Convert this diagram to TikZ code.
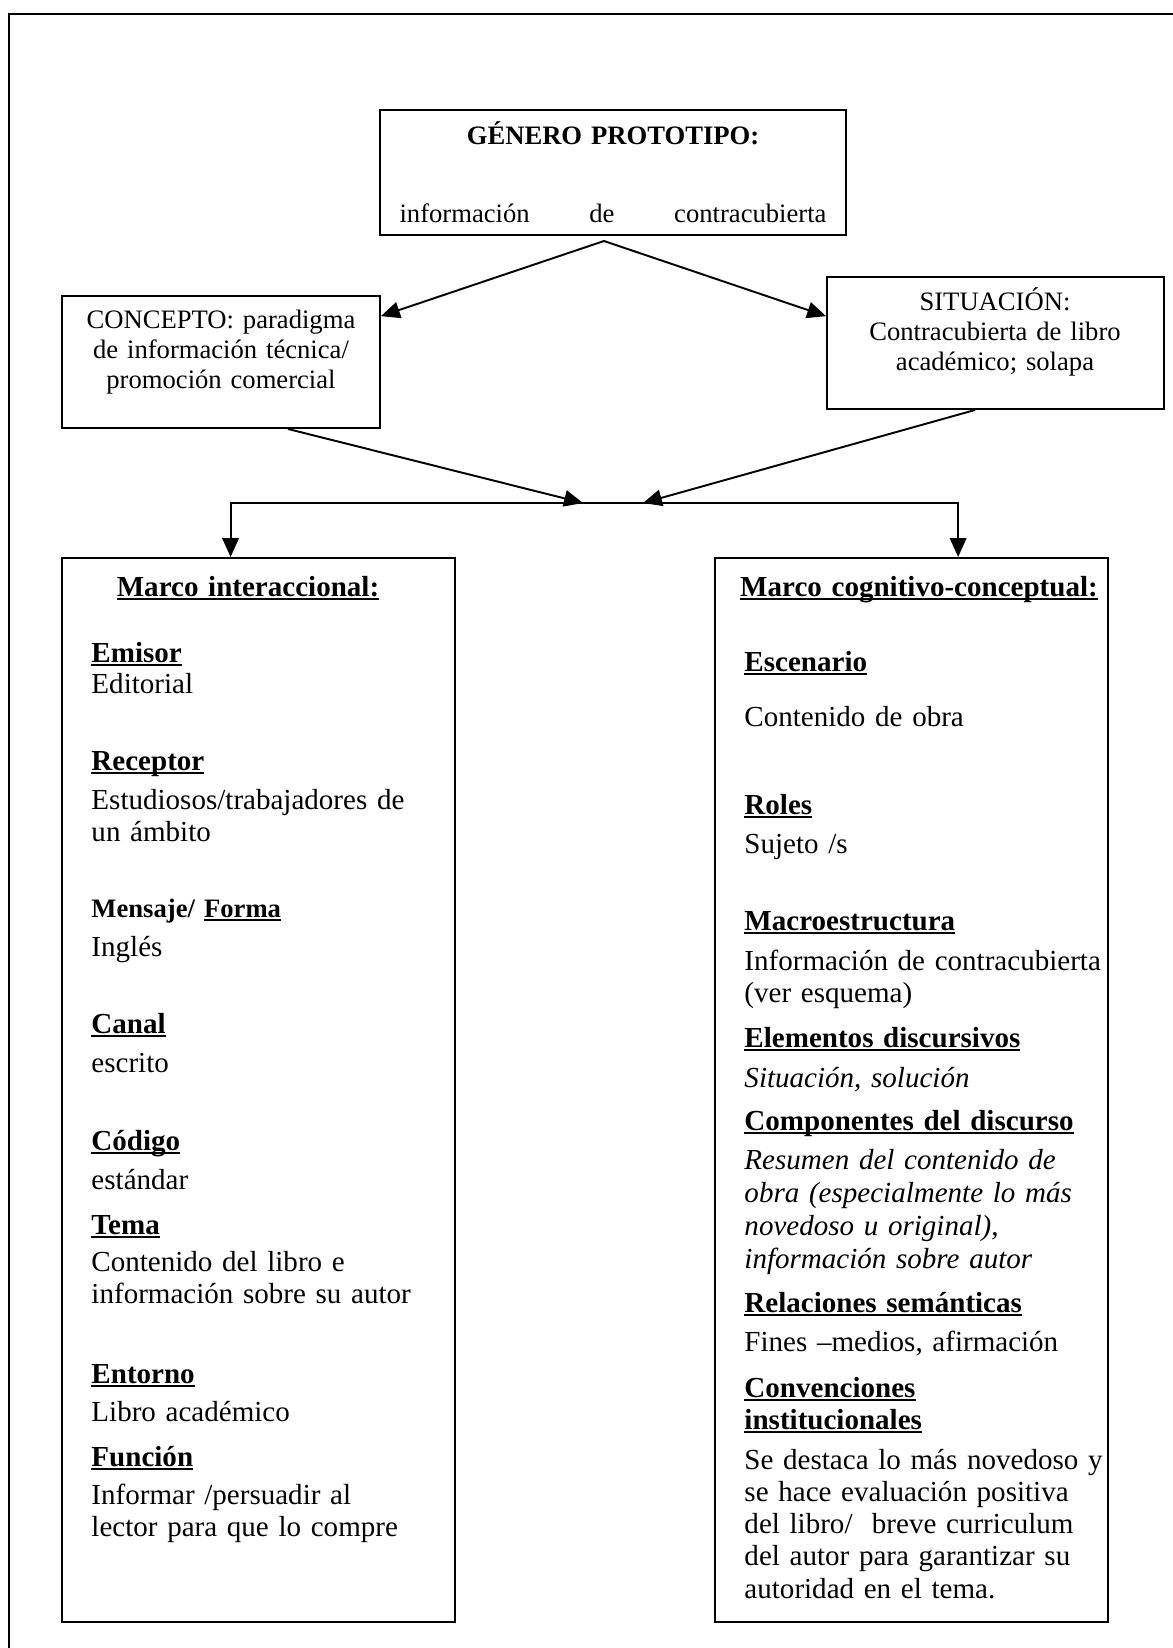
\documentclass[tikz,border=0pt]{standalone}
\usepackage{fontspec}
\setmainfont{Liberation Serif}
\usetikzlibrary{arrows.meta,fit}
\newcommand\ulbf[1]{\setbox0\hbox{\textbf{#1}}\rlap{\rule[-1.6pt]{\wd0}{0.8pt}}\box0}
\tikzset{
  frame/.style={draw,line width=0.8pt,inner sep=0pt},
  arr/.style={-{Triangle[length=7.8pt,width=6.8pt]},line width=0.8pt},
  lbl/.style={inner sep=0pt,text width=140pt,align=center,anchor=base,font=\fontsize{11}{12.6}\selectfont},
  txt/.style={inner sep=0pt,text width=165pt,align=left,anchor=base west,font=\fontsize{12}{13.5}\selectfont},
}
\begin{document}
\begin{tikzpicture}[x=0.4132pt,y=-0.4132pt]
\useasboundingbox (0,0) rectangle (1173,1648);
\draw[line width=0.9pt] (9,1660) -- (9,14) -- (1185,14);

\node (genero) [frame,fit={(380,110) (846,235)}] {};
\node (concepto) [frame,fit={(62,296) (380,428)}] {};
\node (situacion) [frame,fit={(827,277) (1164,409)}] {};
\node (interac) [frame,fit={(62,558) (455,1622)}] {};
\node (cognit) [frame,fit={(715,558) (1108,1622)}] {};

\node (generot) [lbl,text width=190pt] at (613,144) {\textbf{GÉNERO PROTOTIPO:}};
\node (generos) [lbl,text width=190pt] at (613,222) {\hbox to 176.4pt{información\hfill de\hfill contracubierta}};
\node (conceptot) [lbl] at (221,328) {CONCEPTO: paradigma\\de información técnica/\\promoción comercial};
\node (situaciont) [lbl] at (995,310) {SITUACIÓN:\\Contracubierta de libro\\académico; solapa};

\coordinate (split) at (604,241);
\coordinate (hubL) at (583,503);
\coordinate (hubR) at (643,503);
\draw[arr] (split) -- (concepto.16);
\draw[arr] (split) -- (situacion.171);
\draw[arr] (concepto.-45) -- (hubL);
\draw[arr] (situacion.-107) -- (hubR);
\draw[arr] (hubL) -| (interac.93);
\draw[arr] (hubL) -| (cognit.85);

\node (interact) [txt,anchor=base,align=center] at (248,596) {\ulbf{Marco interaccional:}};
\node (emisor) [txt] at (91,662) {\ulbf{Emisor}};
\node (emisorv) [txt] at (91,693) {Editorial};
\node (receptor) [txt] at (91,770) {\ulbf{Receptor}};
\node (receptorv) [txt] at (91,809) {Estudiosos/trabajadores de\\un ámbito};
\node (mensaje) [txt,font=\fontsize{11}{12.6}\selectfont] at (91,917) {\textbf{Mensaje/} \ulbf{Forma}};
\node (mensajev) [txt] at (91,956) {Inglés};
\node (canal) [txt] at (91,1033) {\ulbf{Canal}};
\node (canalv) [txt] at (91,1072) {escrito};
\node (codigo) [txt] at (91,1150) {\ulbf{Código}};
\node (codigov) [txt] at (91,1189) {estándar};
\node (tema) [txt] at (91,1234) {\ulbf{Tema}};
\node (temav) [txt] at (91,1271) {Contenido del libro e\\información sobre su autor};
\node (entorno) [txt] at (91,1383) {\ulbf{Entorno}};
\node (entornov) [txt] at (91,1421) {Libro académico};
\node (funcion) [txt] at (91,1466) {\ulbf{Función}};
\node (funcionv) [txt] at (91,1504) {Informar /persuadir al\\lector para que lo compre};

\node (cognitt) [txt,anchor=base,align=center] at (919,596) {\ulbf{Marco cognitivo-conceptual:}};
\node (escenario) [txt] at (744,671) {\ulbf{Escenario}};
\node (escenariov) [txt] at (744,726) {Contenido de obra};
\node (roles) [txt] at (744,814) {\ulbf{Roles}};
\node (rolesv) [txt] at (744,853) {Sujeto /s};
\node (macro) [txt] at (744,930) {\ulbf{Macroestructura}};
\node (macrov) [txt] at (744,970) {Información de contracubierta\\(ver esquema)};
\node (elementos) [txt] at (744,1047) {\ulbf{Elementos discursivos}};
\node (elementosv) [txt] at (744,1087) {\textit{Situación, solución}};
\node (componentes) [txt] at (744,1130) {\ulbf{Componentes del discurso}};
\node (componentesv) [txt,font=\fontsize{12}{13.7}\selectfont\itshape] at (744,1169) {Resumen del contenido de\\obra (especialmente lo más\\novedoso u original),\\información sobre autor};
\node (relaciones) [txt] at (744,1312) {\ulbf{Relaciones semánticas}};
\node (relacionesv) [txt] at (744,1351) {Fines –medios, afirmación};
\node (convenciones) [txt] at (744,1397) {\ulbf{Convenciones}};
\node (institucionales) [txt] at (744,1429) {\ulbf{institucionales}};
\node (convencionesv) [txt,font=\fontsize{12}{13.35}\selectfont] at (744,1469) {Se destaca lo más novedoso y\\se hace evaluación positiva\\del libro/~ breve curriculum\\del autor para garantizar su\\autoridad en el tema.};
\end{tikzpicture}
\end{document}
